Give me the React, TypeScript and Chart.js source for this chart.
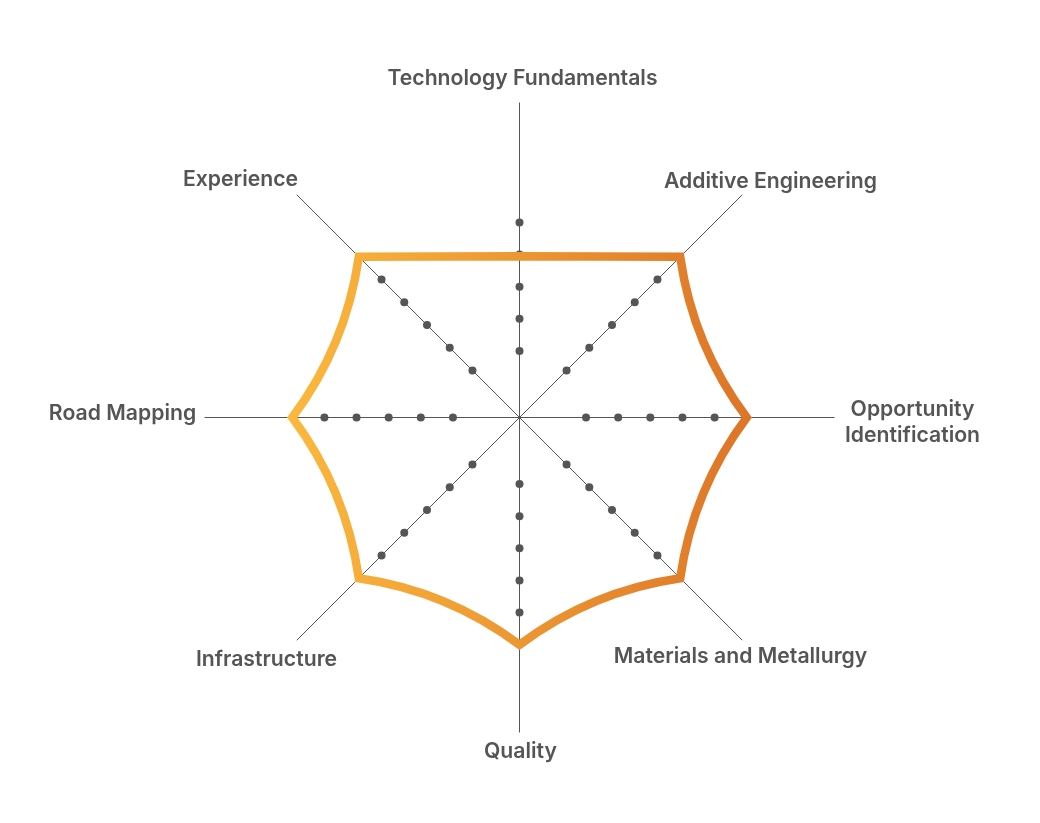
import React, { useEffect, useRef } from "react";
import { Chart, registerables } from "chart.js";

Chart.register(...registerables);

// ---- data ----
const categories: (string | string[])[] = [
  "Technology Fundamentals",
  "Additive Engineering",
  ["Opportunity", "Identification"],
  "Materials and Metallurgy",
  "Quality",
  "Infrastructure",
  "Road Mapping",
  "Experience",
];
const scores = [4.95, 7, 7, 7, 7, 7, 7, 7];
const dotLevels = [2, 3, 4, 5, 6];
const scaleMin = -0.07;
const scaleMax = 9.73;

// ---- styling / layout (not data) ----
const GRAY = "#555555";
const LABEL_FONT = '600 21.2px Inter, "Open Sans", sans-serif';
const LABEL_LINE_HEIGHT = 26;
const BOW = 0.085; // inward bow of each edge, as a share of its length
// label text centre relative to the radar centre
const LABEL_OFFSETS: [number, number][] = [
  [3, -339],
  [251, -236],
  [393, 5.5],
  [221, 239],
  [1, 334],
  [-253, 242.5],
  [-397, -3.5],
  [-279, -237.5],
];

// half-pixel shift for crisp 1px axis lines, plus custom label placement
const framePlugin = {
  id: "frameAndLabels",
  beforeDraw(chart: any) {
    chart.ctx.save();
    chart.ctx.translate(0.5, 0.5);
  },
  afterDraw(chart: any) {
    const s = chart.scales.r;
    const ctx = chart.ctx;
    if (s) {
      ctx.save();
      ctx.font = LABEL_FONT;
      ctx.fillStyle = GRAY;
      ctx.textAlign = "center";
      ctx.textBaseline = "middle";
      categories.forEach((lab, i) => {
        const [dx, dy] = LABEL_OFFSETS[i];
        const lines = Array.isArray(lab) ? lab : [lab];
        lines.forEach((ln, j) => {
          ctx.fillText(
            ln,
            s.xCenter + dx,
            s.yCenter + dy + (j - (lines.length - 1) / 2) * LABEL_LINE_HEIGHT
          );
        });
      });
      ctx.restore();
    }
    ctx.restore();
  },
};

// Edges bow inward toward the centre with sharp corners at the points;
// edges meeting at a straight (collinear) point stay straight.
const edgePlugin = {
  id: "concaveEdges",
  beforeDatasetsDraw(chart: any) {
    const meta = chart.getDatasetMeta(0);
    const line: any = meta.dataset;
    const pts: any[] = meta.data as any[];
    const s = chart.scales.r;
    if (!line || !pts || pts.length < 3 || !s) return;
    line.updateControlPoints(chart.chartArea, "r");
    const n = pts.length;
    const cx = s.xCenter, cy = s.yCenter;
    const straightAt = (i: number) => {
      const a = pts[(i - 1 + n) % n], b = pts[i], c = pts[(i + 1) % n];
      const ux = b.x - a.x, uy = b.y - a.y, vx = c.x - b.x, vy = c.y - b.y;
      const lu = Math.hypot(ux, uy), lv = Math.hypot(vx, vy);
      if (!lu || !lv) return false;
      return Math.abs((ux * vy - uy * vx) / (lu * lv)) < 0.02 && ux * vx + uy * vy > 0;
    };
    for (let i = 0; i < n; i++) {
      const a = pts[i];
      const b = pts[(i + 1) % n];
      const dx = b.x - a.x, dy = b.y - a.y;
      const L = Math.hypot(dx, dy);
      if (!L) continue;
      let nx = -dy / L, ny = dx / L;
      const mx = (a.x + b.x) / 2, my = (a.y + b.y) / 2;
      if (nx * (cx - mx) + ny * (cy - my) < 0) { nx = -nx; ny = -ny; }
      const bow = straightAt(i) || straightAt((i + 1) % n) ? 0 : BOW * L;
      a.cp2x = a.x + dx / 3 + nx * bow;
      a.cp2y = a.y + dy / 3 + ny * bow;
      b.cp1x = b.x - dx / 3 + nx * bow;
      b.cp1y = b.y - dy / 3 + ny * bow;
    }
    line._path = undefined;
  },
};

function strokeGradient(c: any) {
  const chart = c.chart;
  const s = chart.scales && chart.scales.r;
  if (!s || !chart.chartArea || !isFinite(s.xCenter)) return "#EE9A35";
  const half = s.drawingArea * 0.73;
  const g = chart.ctx.createLinearGradient(s.xCenter - half, 0, s.xCenter + half, 0);
  g.addColorStop(0, "#FBB83D");
  g.addColorStop(1, "#DD7527");
  return g;
}

export default function App() {
  const ref = useRef<HTMLCanvasElement>(null);

  useEffect(() => {
    if (!ref.current) return;
    const labels = categories.map((c) => (Array.isArray(c) ? c.join(" ") : c));
    const dotSets = dotLevels.map((lvl) => ({
      label: `level ${lvl}`,
      data: labels.map(() => lvl),
      showLine: false,
      fill: false,
      pointRadius: 4,
      pointHoverRadius: 4,
      pointBackgroundColor: GRAY,
      pointBorderWidth: 0,
      borderWidth: 0,
    }));
    const chart = new Chart(ref.current, {
      type: "radar",
      data: {
        labels,
        datasets: [
          {
            label: "Score",
            data: scores,
            fill: false,
            tension: 0.3,
            borderWidth: 8.5,
            borderJoinStyle: "miter",
            borderColor: strokeGradient as any,
            backgroundColor: "rgba(0,0,0,0)",
            pointRadius: 0,
            pointHoverRadius: 0,
          } as any,
          ...dotSets,
        ],
      },
      options: {
        responsive: true,
        maintainAspectRatio: false,
        animation: false,
        layout: { padding: { top: 102, bottom: 90, left: 204, right: 205 } },
        plugins: {
          legend: { display: false },
          tooltip: { enabled: false },
        },
        scales: {
          r: {
            min: scaleMin,
            max: scaleMax,
            beginAtZero: false,
            grid: { display: false },
            angleLines: { display: true, color: GRAY, lineWidth: 1 },
            ticks: { display: false },
            pointLabels: { display: false },
          },
        },
      } as any,
      plugins: [framePlugin, edgePlugin],
    });
    return () => chart.destroy();
  }, []);

  return (
    <div
      style={{
        position: "absolute",
        left: 0,
        top: 0,
        width: 1040,
        height: 823,
        background: "#ffffff",
      }}
    >
      <canvas ref={ref} />
    </div>
  );
}
